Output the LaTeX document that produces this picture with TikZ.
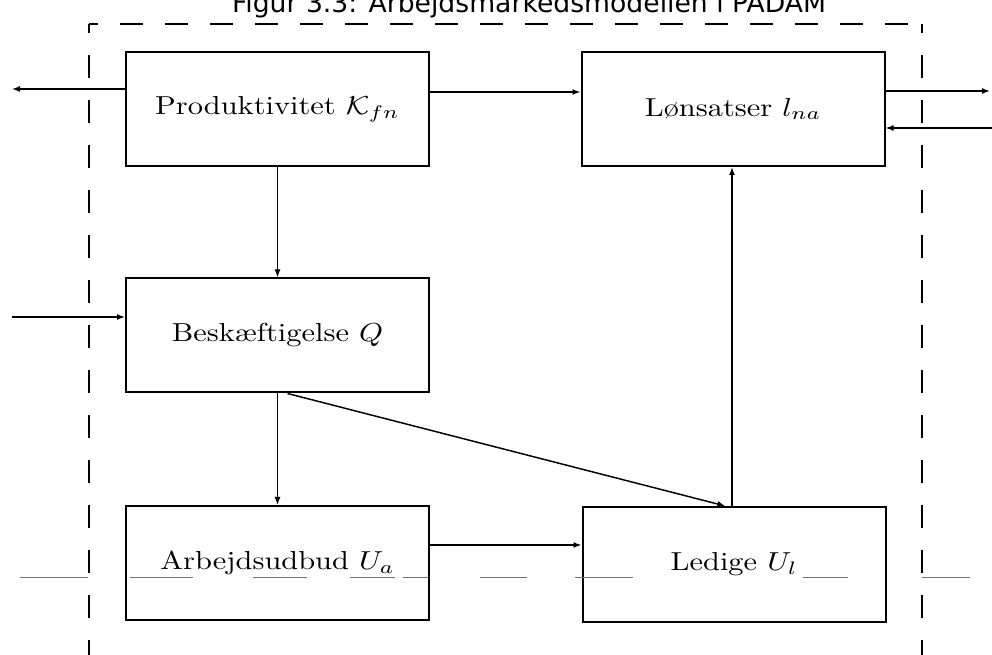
\documentclass[tikz,border=0pt]{standalone}
\usepackage{fontspec}
\usepackage{graphicx}
\newfontfamily\titlefont{DejaVu Sans}
\usetikzlibrary{arrows.meta}
\newcommand{\boxtext}[1]{\scalebox{2.28}[1.95]{#1}}
\begin{document}
\begin{tikzpicture}[x=0.75pt,y=-0.75pt,
  box/.style={draw,line width=1.5pt,minimum width=227.25pt,minimum height=85.5pt,inner sep=0pt,font=\normalsize},
  arr/.style={line width=1.1pt,-{Latex[length=6pt,width=4.5pt]}},
  frame/.style={line width=1.5pt,dash pattern=on 17.25pt off 16.5pt},
  scan/.style={line width=0.6pt,black!55}]
\useasboundingbox (0,0) rectangle (992,655);
% title (partly cut off at the top, as in the reference)
\node[anchor=base,inner sep=0pt] (T) at (529,13) {\resizebox{445.5pt}{!}{\titlefont Figur 3.3: Arbejdsmarkedsmodellen i PADAM}};
% frame
\draw[frame,dash phase=10.5pt] (89,24) -- (922,24);
\draw[frame,dash phase=10.5pt] (89,24) -- (89,690);
\draw[frame,dash phase=10.5pt] (922,24) -- (922,690);
% boxes
\node[box] (P) at (277.5,109) {\boxtext{Produktivitet $\mathcal{K}_{fn}$}};
\node[box] (L) at (733,109) {\boxtext{Lønsatser $l_{na}$}};
\node[box] (B) at (277.5,335.5) {\boxtext{Beskæftigelse $Q$}};
\node[box] (A) at (277.5,563) {\boxtext{Arbejdsudbud $U_a$}};
\node[box,minimum height=86.25pt] (U) at (734,564.5) {\boxtext{Ledige $U_l$}};
% connectors
\coordinate (pout) at (12,89);
\draw[arr] (P.west |- pout) -- (pout);
\coordinate (bin) at (12,317);
\draw[arr] (bin) -- (B.west |- bin);
\coordinate (plrow) at (0,92);
\draw[arr] (P.east |- plrow) -- (L.west |- plrow);
\coordinate (lout) at (990,91);
\draw[arr] (L.east |- lout) -- (lout);
\coordinate (lin) at (992,128);
\draw[arr] (lin) -- (L.east |- lin);
\draw[arr] (P.south) -- (B.north);
\draw[arr] (B.south) -- (A.north);
\draw[arr] ([xshift=7.5pt]B.south) -- ([xshift=-6.5pt]U.north);
\draw[arr] ([xshift=-1.5pt]U.north) -- ([xshift=-1.5pt]U.north |- L.south);
\coordinate (au) at (0,545);
\draw[arr] (A.east |- au) -- (U.west |- au);
% faint scan line
\draw[scan] (20,577)--(88,577) (130,577)--(193,577) (253,577)--(307,577) (350,577)--(395,577) (403,577)--(428,577) (480,577)--(527,577) (575,577)--(633,577) (803,577)--(848,577) (922,577)--(970,577);
\end{tikzpicture}
\end{document}
